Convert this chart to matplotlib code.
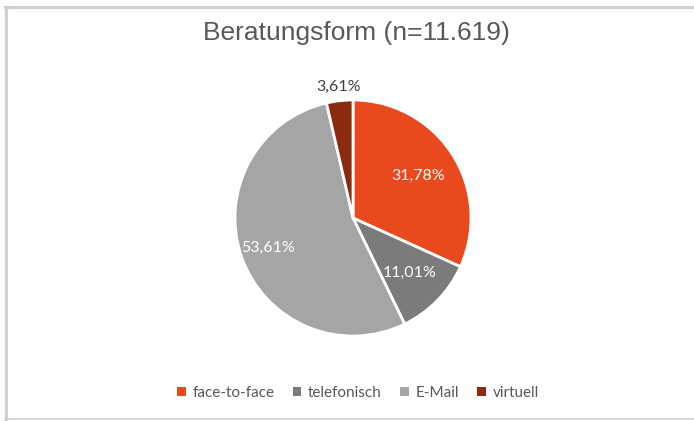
import numpy as np
import matplotlib.pyplot as plt
from matplotlib.patches import Patch

# data
categories = ['face-to-face', 'telefonisch', 'E-Mail', 'virtuell']
shares = [31.78, 11.01, 53.61, 3.61]
colors = ['#E8491D', '#7B7B7B', '#A5A5A5', '#8B2A0E']
label_colors = ['white', 'white', 'white', '#404040']
label_dist = [0.66, 0.67, 0.76, 1.12]

fig = plt.figure(figsize=(6.94, 4.21), dpi=100)

# grey frame like the excel export (left, top, bottom)
fig.add_artist(plt.Line2D([6 / 694, 6 / 694], [2 / 421, 414 / 421], color='#D0D0D0', lw=2.2))
fig.add_artist(plt.Line2D([5 / 694, 1], [414 / 421, 414 / 421], color='#D0D0D0', lw=2.2))
fig.add_artist(plt.Line2D([5 / 694, 1], [2 / 421, 2 / 421], color='#D0D0D0', lw=1.2))

fig.text(356 / 694, 1 - 33 / 421, 'Beratungsform (n=11.619)', ha='center', va='center',
         fontsize=19, color='#595959', family='Liberation Sans')

ax = fig.add_axes([353 / 694 - 118 / 694, 1 - 218 / 421 - 118 / 421, 236 / 694, 236 / 421])
wedges, _ = ax.pie(shares, colors=colors, startangle=90, counterclock=False,
                   wedgeprops=dict(edgecolor='white', linewidth=2))
ax.set_xlim(-1, 1)
ax.set_ylim(-1, 1)
ax.set_aspect('equal')
ax.axis('off')

# percentage labels at the wedge middles
cum = np.cumsum([0] + shares[:-1])
for s, c0, col, d in zip(shares, cum, label_colors, label_dist):
    ang = np.deg2rad(90 - (c0 + s / 2) * 3.6)
    txt = f'{s:.2f}%'.replace('.', ',')
    ax.text(d * np.cos(ang), d * np.sin(ang), txt, ha='center', va='center',
            fontsize=11.5, color=col, family='Lato')

handles = [Patch(facecolor=c, edgecolor='none') for c in colors]
fig.legend(handles, categories, loc='center', bbox_to_anchor=(358 / 694, 1 - 393 / 421),
           ncol=4, frameon=False, handlelength=0.55, handleheight=0.55, handletextpad=0.45,
           columnspacing=1.2, prop=dict(family='Lato', size=11), labelcolor='#595959')

fig.savefig('out.png', dpi=100)
